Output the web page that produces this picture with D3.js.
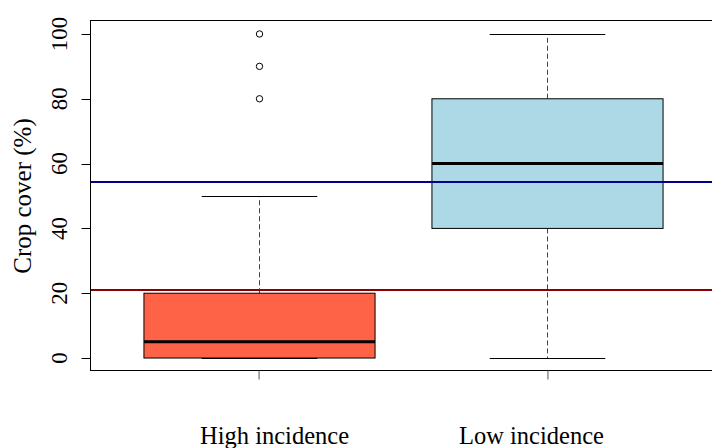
<!DOCTYPE html>
<html lang="en">
<head>
  <meta charset="UTF-8">
  <script src="https://d3js.org/d3.v7.min.js"></script>
  <title>Crop cover boxplot</title>
  <style>
    body { margin: 0; background: #fff; }
    text { font-family: "Liberation Serif", "Times New Roman", serif; fill: #000; }
  </style>
</head>
<body>
  <div id="wrapper"></div>
  <script>
    // data
    const groups = ["High incidence", "Low incidence"]
    const mins = [0, 0]
    const q1s = [0, 40]
    const medians = [5, 60]
    const q3s = [20, 80]
    const maxs = [50, 100]
    const outliers = [[80, 90, 100], []]
    const boxColors = ["#ff6347", "#add8e6"]
    const refValues = [54.3, 21]
    const refColors = ["#00008b", "#8b0000"]
    const yTicks = [0, 20, 40, 60, 80, 100]

    const dimensions = { width: 712, height: 448 }

    const svg = d3.select("#wrapper")
        .append("svg")
        .attr("width", dimensions.width)
        .attr("height", dimensions.height)

    const xScale = d3.scaleLinear()
        .domain([0.42, 2.58])
        .range([91, 715])

    const yScale = d3.scaleLinear()
        .domain([-4, 104])
        .range([371, 21])

    const unit = xScale(2) - xScale(1)
    const boxW = unit * 0.8

    const boxes = groups.map((g, i) => ({
      name: g, i: i, min: mins[i], q1: q1s[i], med: medians[i],
      q3: q3s[i], max: maxs[i], out: outliers[i], color: boxColors[i]
    }))

    const bx = d => Math.round(xScale(d.i + 1)) + 0.5

    const boxGroups = svg.append("g").selectAll("g")
        .data(boxes)
        .enter()
        .append("g")

    // whiskers (dashed)
    boxGroups.append("line")
        .attr("x1", bx).attr("x2", bx)
        .attr("y1", d => yScale(d.q3)).attr("y2", d => yScale(d.max))
        .attr("stroke", "#444").attr("stroke-dasharray", "5,3")
    boxGroups.append("line")
        .attr("x1", bx).attr("x2", bx)
        .attr("y1", d => yScale(d.q1)).attr("y2", d => yScale(d.min))
        .attr("stroke", "#444").attr("stroke-dasharray", "5,3")

    // staples
    boxGroups.selectAll(".staple")
        .data(d => [d.min, d.max].map(v => ({ v: v, d: d })))
        .enter()
        .append("line")
        .attr("x1", s => bx(s.d) - boxW / 4).attr("x2", s => bx(s.d) + boxW / 4)
        .attr("y1", s => Math.round(yScale(s.v)) + 0.5)
        .attr("y2", s => Math.round(yScale(s.v)) + 0.5)
        .attr("stroke", "#000")

    // boxes
    boxGroups.append("rect")
        .attr("x", d => bx(d) - boxW / 2)
        .attr("y", d => yScale(d.q3))
        .attr("width", boxW)
        .attr("height", d => yScale(d.q1) - yScale(d.q3))
        .attr("fill", d => d.color)
        .attr("stroke", "#000")

    // medians
    boxGroups.append("line")
        .attr("x1", d => bx(d) - boxW / 2).attr("x2", d => bx(d) + boxW / 2)
        .attr("y1", d => yScale(d.med)).attr("y2", d => yScale(d.med))
        .attr("stroke", "#000").attr("stroke-width", 3)

    // outliers
    boxGroups.selectAll("circle")
        .data(d => d.out.map(v => ({ v: v, d: d })))
        .enter()
        .append("circle")
        .attr("cx", o => bx(o.d))
        .attr("cy", o => yScale(o.v))
        .attr("r", 3.2)
        .attr("fill", "none")
        .attr("stroke", "#000")

    // reference lines
    svg.append("g").selectAll("line")
        .data(refValues)
        .enter()
        .append("line")
        .attr("x1", xScale(0.42)).attr("x2", xScale(2.58))
        .attr("y1", d => yScale(d)).attr("y2", d => yScale(d))
        .attr("stroke", (d, i) => refColors[i])
        .attr("stroke-width", 2)

    // frame
    svg.append("rect")
        .attr("x", 90.5).attr("y", 20.5)
        .attr("width", 640).attr("height", 350)
        .attr("fill", "none").attr("stroke", "#000")

    /* axes */
    const yAxis = svg.append("g")
        .attr("transform", "translate(90.5,0)")
        .call(d3.axisLeft(yScale).tickValues(yTicks).tickSize(9).tickPadding(7))
    yAxis.select(".domain").remove()
    yAxis.selectAll("text")
        .style("font-size", "23px")
        .attr("font-family", null)
        .attr("transform", d => `rotate(-90, ${-23}, ${yScale(d)})`)
        .attr("x", -23).attr("dy", 0)
        .attr("y", d => yScale(d))
        .style("text-anchor", "middle")
    yAxis.selectAll(".tick").attr("transform", null)
    yAxis.selectAll(".tick line")
        .attr("y1", d => Math.round(yScale(d)) + 0.5)
        .attr("y2", d => Math.round(yScale(d)) + 0.5)

    const xAxis = svg.append("g")
        .attr("transform", "translate(0,370.5)")
        .call(d3.axisBottom(xScale).tickValues([1, 2]).tickSize(9).tickFormat(""))
    xAxis.select(".domain").remove()
    xAxis.selectAll(".tick line").attr("stroke", "#555")

    // category labels
    svg.append("g").selectAll("text")
        .data(groups)
        .enter()
        .append("text")
        .attr("x", (d, i) => xScale(i + 1) + (i === 0 ? 16 : -16))
        .attr("y", 444)
        .attr("text-anchor", "middle")
        .style("font-size", "24.5px")
        .text(d => d)

    // y title
    svg.append("text")
        .attr("transform", `translate(31, ${(yScale(-4) + yScale(104)) / 2}) rotate(-90)`)
        .attr("text-anchor", "middle")
        .style("font-size", "25px")
        .text("Crop cover (%)")
  </script>
</body>
</html>
